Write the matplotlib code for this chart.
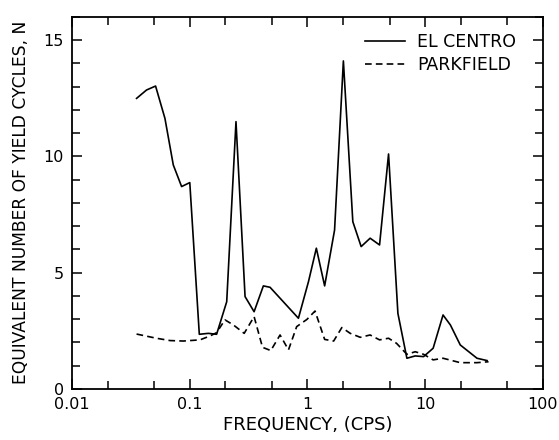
import matplotlib
matplotlib.use("Agg")
import matplotlib.pyplot as plt
from matplotlib.ticker import LogLocator, FixedLocator, FixedFormatter, MultipleLocator, NullFormatter

# El Centro (solid)
ec_freq = [0.0353, 0.0429, 0.0512, 0.0615, 0.0724, 0.0852, 0.100, 0.1205, 0.1437, 0.169,
           0.206, 0.247, 0.295, 0.352, 0.422, 0.481, 0.838, 1.02, 1.19, 1.40,
           1.70, 2.02, 2.43, 2.86, 3.41, 4.10, 4.89, 5.87, 7.00, 8.24,
           9.7, 11.7, 14.2, 16.4, 19.9, 27.6, 33.6]
ec_n = [12.49, 12.85, 13.02, 11.63, 9.63, 8.70, 8.87, 2.35, 2.39, 2.35,
        3.75, 11.49, 3.97, 3.32, 4.43, 4.37, 3.04, 4.61, 6.05, 4.43,
        6.83, 14.10, 7.19, 6.12, 6.48, 6.19, 10.10, 3.25, 1.32, 1.42,
        1.39, 1.75, 3.18, 2.75, 1.89, 1.32, 1.22]

# Parkfield (dashed)
pk_freq = [0.0353, 0.052, 0.068, 0.088, 0.122, 0.149, 0.169, 0.199, 0.235, 0.29,
           0.352, 0.415, 0.488, 0.585, 0.69, 0.81, 0.99, 1.16, 1.40, 1.67,
           1.96, 2.31, 2.81, 3.41, 4.10, 4.89, 5.72, 7.0, 8.24, 9.7,
           11.7, 14.2, 19.9, 27.6, 34.6]
pk_n = [2.36, 2.18, 2.08, 2.06, 2.11, 2.28, 2.42, 2.97, 2.75, 2.39,
        3.11, 1.79, 1.65, 2.32, 1.68, 2.68, 2.99, 3.35, 2.13, 2.06,
        2.64, 2.39, 2.22, 2.32, 2.11, 2.18, 1.96, 1.49, 1.60, 1.49,
        1.25, 1.32, 1.13, 1.13, 1.17]

x_ticks = [0.01, 0.1, 1, 10, 100]
x_labels = ["0.01", "0.1", "1", "10", "100"]
y_ticks = [0, 5, 10, 15]

fig = plt.figure(figsize=(5.59, 4.40), dpi=100)
ax = fig.add_axes([0.129, 0.116, 0.842, 0.846])

ax.plot(ec_freq, ec_n, color="black", lw=1.2, ls="-", label="EL CENTRO")
ax.plot(pk_freq, pk_n, color="black", lw=1.2, ls=(0, (4, 2.5)), label="PARKFIELD")

ax.set_xscale("log")
ax.set_xlim(0.01, 100)
ax.set_ylim(0, 16)

ax.xaxis.set_major_locator(FixedLocator(x_ticks))
ax.xaxis.set_major_formatter(FixedFormatter(x_labels))
ax.xaxis.set_minor_locator(LogLocator(base=10, subs=(2, 5)))
ax.xaxis.set_minor_formatter(NullFormatter())
ax.set_yticks(y_ticks)
ax.yaxis.set_minor_locator(MultipleLocator(1))

ax.tick_params(which="both", direction="in", top=True, right=True, width=1.1, labelsize=11.5)
ax.tick_params(which="major", length=7)
ax.tick_params(which="minor", length=6)
ax.tick_params(axis="x", which="major", pad=6)
ax.tick_params(axis="y", which="major", pad=6)
for s in ax.spines.values():
    s.set_linewidth(1.3)

ax.set_xlabel("FREQUENCY, (CPS)", fontsize=13, labelpad=3)
ax.set_ylabel("EQUIVALENT NUMBER OF YIELD CYCLES, N", fontsize=12.3, labelpad=10)

leg = ax.legend(loc="upper left", frameon=False, fontsize=12.5, handlelength=2.3,
                handletextpad=0.7, borderpad=0, borderaxespad=0, labelspacing=0.25,
                bbox_to_anchor=(0.622, 0.955))

fig.savefig("out.png", dpi=100)
